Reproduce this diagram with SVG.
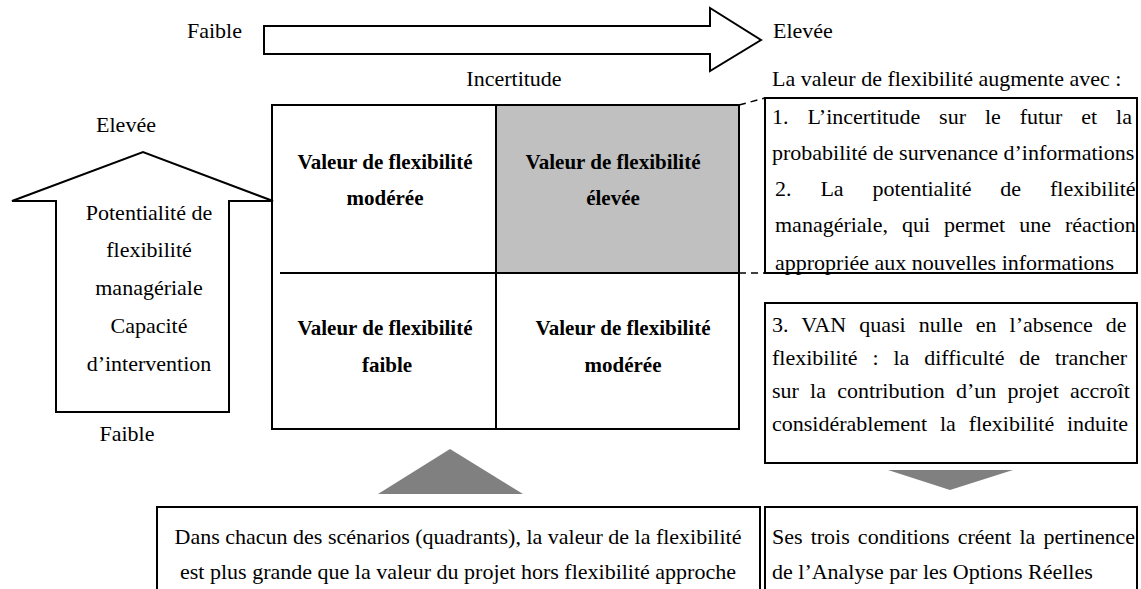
<svg xmlns="http://www.w3.org/2000/svg" width="1141" height="589" viewBox="0 0 1141 589">
<style>
text{font-family:"Liberation Serif","Times New Roman",serif;font-size:22px;fill:#000}
.b{font-weight:bold;font-size:21px}
.c{text-anchor:middle}
.ln{fill:none;stroke:#000;stroke-width:2}
.box{fill:#fff;stroke:#000;stroke-width:2}
.dash{fill:none;stroke:#000;stroke-width:1.5;stroke-dasharray:7 5}
.tri{fill:#808080}
</style>
<rect width="1141" height="589" fill="#fff"/>
<g id="top-arrow">
<polygon class="box" points="264,26 710,26 710,8 761,40 710,71 710,54 264,54"/>
<text x="187" y="38">Faible</text>
<text x="773" y="38">Elevée</text>
<text class="c" x="514" y="86">Incertitude</text>
</g>
<g id="left-arrow">
<polygon class="box" points="56,412 56,201 12,201 143,152 273,201 229,201 229,412"/>
<text class="c" x="126" y="132">Elevée</text>
<text class="c" x="149" y="220">Potentialité de</text>
<text class="c" x="149" y="257">flexibilité</text>
<text class="c" x="149" y="295">managériale</text>
<text class="c" x="149" y="333">Capacité</text>
<text class="c" x="149" y="371">d’intervention</text>
<text class="c" x="127" y="441">Faible</text>
</g>
<g id="matrix">
<rect x="496" y="105" width="243" height="168" fill="#c0c0c0"/>
<rect class="ln" x="272" y="105" width="467" height="324"/>
<line class="ln" x1="496" y1="105" x2="496" y2="429"/>
<line class="ln" x1="280" y1="273" x2="739" y2="273"/>
<text class="b c" x="385" y="169">Valeur de flexibilité</text>
<text class="b c" x="385" y="205">modérée</text>
<text class="b c" x="613" y="169">Valeur de flexibilité</text>
<text class="b c" x="613" y="205">élevée</text>
<text class="b c" x="385" y="335">Valeur de flexibilité</text>
<text class="b c" x="387" y="372">faible</text>
<text class="b c" x="623" y="335">Valeur de flexibilité</text>
<text class="b c" x="623" y="372">modérée</text>
</g>
<g id="connectors">
<line class="dash" x1="739" y1="105" x2="765" y2="98"/>
<line class="dash" x1="739" y1="273" x2="765" y2="273"/>
<polygon class="tri" points="888,470 1013,470 950,490"/>
<polygon class="tri" points="378,494 523,494 450,449"/>
</g>
<g id="conditions">
<text x="772" y="86">La valeur de flexibilité augmente avec :</text>
<rect class="box" x="765" y="98" width="372" height="175"/>
<text x="772" y="124" word-spacing="13.4">1. L’incertitude sur le futur et la</text>
<text x="772" y="160">probabilité de survenance d’informations</text>
<text x="775" y="196" word-spacing="23.4">2. La potentialité de flexibilité</text>
<text x="775" y="232" word-spacing="8.5">managériale, qui permet une réaction</text>
<text x="775" y="270">appropriée aux nouvelles informations</text>
</g>
<g id="van">
<rect class="box" x="765" y="303" width="372" height="160"/>
<text x="772" y="332" word-spacing="7.6">3. VAN quasi nulle en l’absence de</text>
<text x="772" y="365" word-spacing="9.4">flexibilité : la difficulté de trancher</text>
<text x="772" y="398" word-spacing="5.7">sur la contribution d’un projet accroît</text>
<text x="772" y="431" word-spacing="7.3">considérablement la flexibilité induite</text>
</g>
<g id="pertinence">
<rect class="box" x="765" y="507" width="372" height="100"/>
<text x="772" y="544" word-spacing="2.6">Ses trois conditions créent la pertinence</text>
<text x="772" y="579">de l’Analyse par les Options Réelles</text>
</g>
<g id="scenarios">
<rect class="box" x="157" y="507" width="603" height="100"/>
<text class="c" x="458" y="544">Dans chacun des scénarios (quadrants), la valeur de la flexibilité</text>
<text class="c" x="458" y="579">est plus grande que la valeur du projet hors flexibilité approche</text>
</g>
</svg>
